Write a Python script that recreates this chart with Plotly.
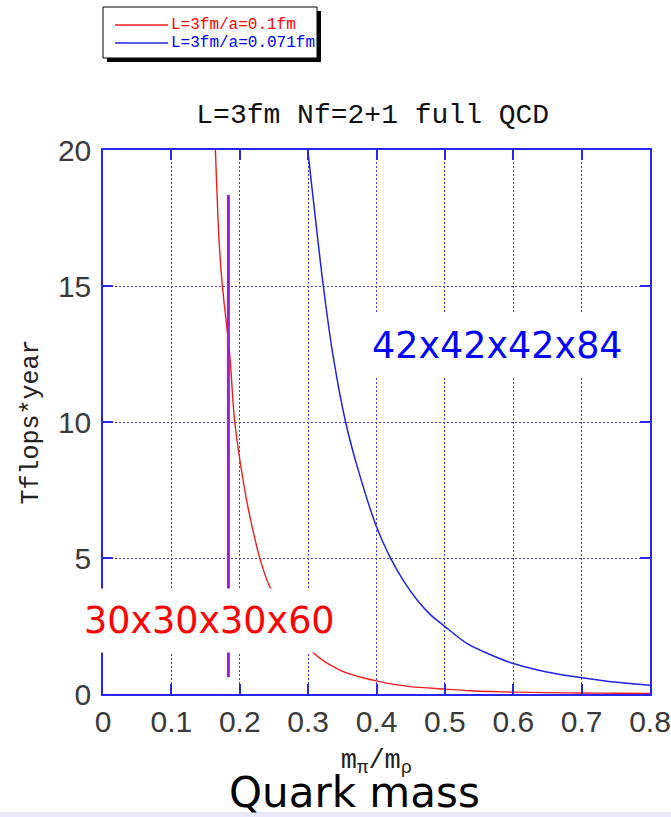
import plotly.graph_objects as go

# Cost estimate (Tflops*year) vs m_pi/m_rho, L = 3 fm, Nf = 2+1 full QCD
x_a01 = [0.1644, 0.1697, 0.1746, 0.1853, 0.1927, 0.2073, 0.2170, 0.2293, 0.2440,
         0.3050, 0.3464, 0.4000, 0.4490, 0.5000, 0.5370, 0.5660, 0.6000, 0.6500,
         0.7000, 0.7500, 0.8000]
y_a01 = [20.0, 16.7, 15.0, 12.5, 10.0, 7.5, 6.27, 5.0, 3.94,
         1.58, 0.88, 0.48, 0.27, 0.18, 0.12, 0.09, 0.07, 0.05,
         0.035, 0.028, 0.02]

x_a0071 = [0.2995, 0.3222, 0.3367, 0.3548, 0.3732, 0.4000, 0.4200, 0.4400,
           0.4600, 0.4800, 0.5000, 0.5320, 0.5660, 0.6000, 0.6490, 0.7000,
           0.7515, 0.8000]
y_a0071 = [20.0, 15.0, 12.4, 10.0, 8.24, 6.15, 5.02, 4.14,
           3.44, 2.89, 2.48, 1.86, 1.45, 1.12, 0.81, 0.60,
           0.43, 0.32]

# physical-point marker
x_phys = [0.1834, 0.1834]
y_phys = [0.62, 18.35]

series_names = ["L=3fm/a=0.1fm", "L=3fm/a=0.071fm"]
series_colors = ["#f01c1c", "#2222e6"]
name_colors = ["#ff0000", "#0000ff"]
lattice_labels = ["30x30x30x60", "42x42x42x84"]
label_pos = [(0.1553, 2.72), (0.577, 12.83)]

x_ticks = [0, 0.1, 0.2, 0.3, 0.4, 0.5, 0.6, 0.7, 0.8]
y_ticks = [0, 5, 10, 15, 20]

MONO = "Liberation Mono"
SANS = "Liberation Sans"
AXIS_BLUE = "#2626f0"

# plot area in pixels, used to place the boxed key above the axes
W, H = 671, 817
ML, MR, MT, MB = 103, 21, 150, 123
PW, PH = W - ML - MR, H - MT - MB


def px(xp):
    return (xp - ML) / PW


def py(yp):
    return (H - MB - yp) / PH


fig = go.Figure()
fig.add_trace(go.Scatter(
    x=x_a01, y=y_a01, mode="lines", name=series_names[0], showlegend=False,
    line=dict(color=series_colors[0], width=1.4, shape="spline", smoothing=0.8),
))
fig.add_trace(go.Scatter(
    x=x_a0071, y=y_a0071, mode="lines", name=series_names[1], showlegend=False,
    line=dict(color=series_colors[1], width=1.5, shape="spline", smoothing=0.8),
))
fig.add_trace(go.Scatter(
    x=x_phys, y=y_phys, mode="lines", showlegend=False,
    line=dict(color="#9b20d9", width=3),
))

axis_common = dict(
    showline=True, linecolor=AXIS_BLUE, linewidth=1.5, mirror="ticks",
    ticks="inside", ticklen=10, tickwidth=1.5, tickcolor=AXIS_BLUE,
    showgrid=True, gridcolor="#3a3aff", gridwidth=1, griddash="2px,2px",
    zeroline=False, automargin=False,
    tickfont=dict(family=SANS, size=30, color="#3a3a3a"),
)

fig.update_xaxes(
    range=[0, 0.8], tickvals=x_ticks,
    ticktext=[f"{v:g}" for v in x_ticks],
    title=dict(text="m<sub>π</sub>/m<sub>ρ</sub>",
               font=dict(family=MONO, size=27, color="#222222"), standoff=12),
    **axis_common,
)
fig.update_yaxes(
    range=[0, 20], tickvals=y_ticks,
    title=dict(text="Tflops*year",
               font=dict(family=MONO, size=25, color="#222222"), standoff=12),
    ticklabelstandoff=4,
    **axis_common,
)

for (lx, ly), txt, col in zip(label_pos, lattice_labels, name_colors):
    fig.add_annotation(
        x=lx, y=ly, xref="x", yref="y", text=txt, showarrow=False,
        font=dict(family="DejaVu Sans", size=36.5, color=col),
        bgcolor="white", borderpad=10,
    )

fig.add_annotation(
    x=0.46, y=py(819), xref="paper", yref="paper", text="Quark mass",
    showarrow=False, xanchor="center", yanchor="bottom",
    font=dict(family="DejaVu Sans", size=42, color="#000000"),
)

# boxed key with a drop shadow
fig.add_shape(type="rect", xref="paper", yref="paper",
              x0=px(107), x1=px(321), y0=py(62), y1=py(11),
              fillcolor="black", line=dict(width=0), layer="above")
fig.add_shape(type="rect", xref="paper", yref="paper",
              x0=px(103), x1=px(317), y0=py(58), y1=py(7),
              fillcolor="white", line=dict(color="black", width=1), layer="above")
for row_y, name, lc, tc in zip([25, 43], series_names, series_colors, name_colors):
    fig.add_shape(type="line", xref="paper", yref="paper",
                  x0=px(115), x1=px(168), y0=py(row_y), y1=py(row_y),
                  line=dict(color=lc, width=1.3), layer="above")
    fig.add_annotation(
        x=px(169), y=py(row_y), xref="paper", yref="paper", text=name,
        showarrow=False, xanchor="left", yanchor="middle",
        font=dict(family=MONO, size=16, color=tc),
    )

# pale strip along the bottom edge
fig.add_shape(type="rect", xref="paper", yref="paper",
              x0=px(-10), x1=px(W + 10), y0=py(812), y1=py(H + 5),
              fillcolor="#e8e8fa", line=dict(width=0), layer="below")

fig.update_layout(
    width=W, height=H,
    margin=dict(l=ML, r=MR, t=MT, b=MB, autoexpand=False),
    paper_bgcolor="white", plot_bgcolor="white",
    title=dict(text="L=3fm Nf=2+1 full QCD", x=0.5555, xanchor="center",
               y=1 - 113 / H, yanchor="middle", yref="container",
               font=dict(family=MONO, size=28, color="#111111")),
    showlegend=False,
)

fig.write_html("out.html")
